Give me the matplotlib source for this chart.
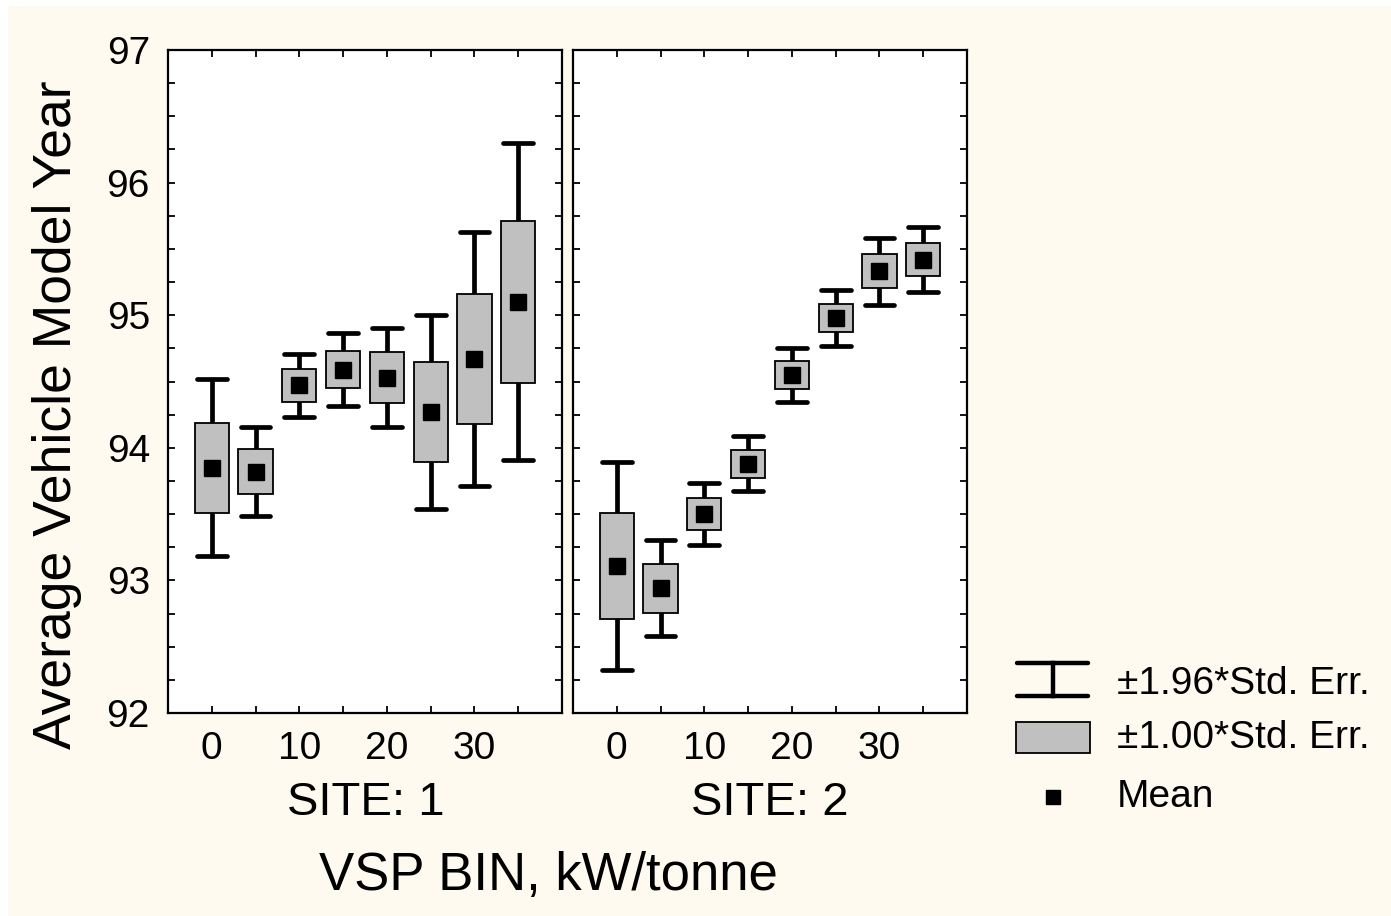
"""Mean vehicle model year by VSP bin, two sites."""

import numpy as np
import matplotlib
matplotlib.use("Agg")
import matplotlib.pyplot as plt
from matplotlib.patches import Rectangle

# data
vsp_bins = [0, 5, 10, 15, 20, 25, 30, 35]
site1_mean = [93.85, 93.82, 94.47, 94.59, 94.53, 94.27, 94.67, 95.10]
site1_se = [0.34, 0.17, 0.123, 0.14, 0.19, 0.375, 0.49, 0.61]
site2_mean = [93.11, 92.94, 93.50, 93.88, 94.55, 94.98, 95.33, 95.42]
site2_se = [0.40, 0.185, 0.12, 0.105, 0.103, 0.107, 0.128, 0.125]
site_labels = ["SITE: 1", "SITE: 2"]
xtick_labels = ["0", "10", "20", "30"]

BG = "#FEFAF0"
BOX = "#C0C0C0"
plt.rcParams["font.family"] = ["Liberation Sans", "DejaVu Sans"]

W, H = 1391, 916
fig = plt.figure(figsize=(W / 100, H / 100), dpi=100)
fig.patch.set_facecolor("white")
fig.patches.append(Rectangle((8 / W, 0), 1, 1 - 6 / H, transform=fig.transFigure,
                             facecolor=BG, edgecolor="none", zorder=-10))


def px_axes(x0, y0, x1, y1):
    return fig.add_axes([x0 / W, 1 - y1 / H, (x1 - x0) / W, (y1 - y0) / H])


def draw_panel(ax, means, ses):
    x = np.array(vsp_bins, dtype=float)
    m = np.array(means)
    s = np.array(ses)
    lw = 3.4
    ax.vlines(x, m - 1.96 * s, m + 1.96 * s, color="black", lw=lw, zorder=2)
    for y in (m - 1.96 * s, m + 1.96 * s):
        caps = ax.hlines(y, x - 1.7, x + 1.7, color="black", lw=lw, zorder=2)
        caps.set_capstyle("round")
    ax.bar(x, 2 * s, bottom=m - s, width=3.9, color=BOX, edgecolor="black",
           linewidth=1.3, zorder=3)
    ax.plot(x, m, "s", ms=11.3, color="black", zorder=4)

    ax.set_xlim(-5, 40)
    ax.set_ylim(92, 97)
    ax.set_xticks([0, 10, 20, 30])
    ax.set_xticks([5, 15, 25, 35], minor=True)
    ax.set_xticklabels(xtick_labels)
    ax.set_yticks([92, 93, 94, 95, 96, 97])
    ax.set_yticks(np.arange(92, 97, 0.25), minor=True)
    for which in ("major", "minor"):
        ax.tick_params(which=which, direction="in", length=5, width=1.3,
                       top=True, right=True, labelsize=28, pad=13)
    for sp in ax.spines.values():
        sp.set_linewidth(1.6)
    ax.set_facecolor("white")


ax1 = px_axes(168, 50, 562, 713)
draw_panel(ax1, site1_mean, site1_se)
ax2 = px_axes(573, 50, 967, 713)
draw_panel(ax2, site2_mean, site2_se)
ax2.tick_params(labelleft=False)

fig.text(366 / W, 1 - 803 / H, site_labels[0], ha="center", va="center", fontsize=34)
fig.text(770 / W, 1 - 803 / H, site_labels[1], ha="center", va="center", fontsize=34)
fig.text(548 / W, 1 - 876 / H, "VSP BIN, kW/tonne", ha="center", va="center", fontsize=38)
fig.text(57 / W, 1 - 415 / H, "Average Vehicle Model Year", ha="center", va="center",
         rotation=90, fontsize=38.5)

# legend drawn in pixel coordinates
leg = px_axes(1000, 640, 1391, 830)
leg.set_xlim(1000, 1391)
leg.set_ylim(830, 640)
leg.axis("off")
for y in (663, 696):
    leg.plot([1017, 1088], [y, y], color="black", lw=3.2, solid_capstyle="round")
leg.plot([1053, 1053], [663, 696], color="black", lw=3.2)
leg.add_patch(Rectangle((1016, 722), 74, 31, facecolor=BOX, edgecolor="black", lw=1.3))
leg.plot([1053], [797], "s", ms=10, color="black")
for y, t in [(684, "±1.96*Std. Err."), (738, "±1.00*Std. Err."), (797, "Mean")]:
    leg.text(1117, y, t, ha="left", va="center", fontsize=28)

fig.savefig("out.png", dpi=100, facecolor=fig.get_facecolor())
